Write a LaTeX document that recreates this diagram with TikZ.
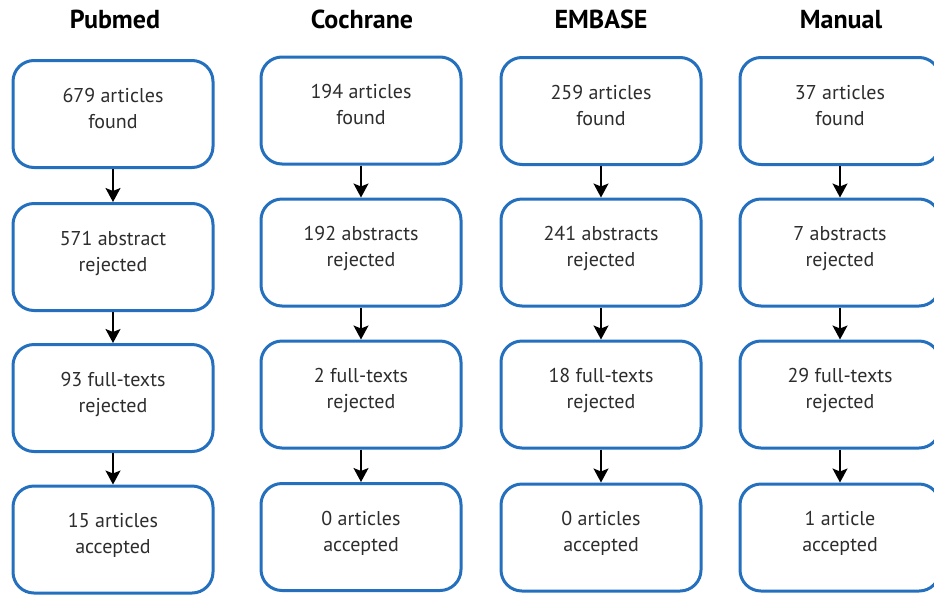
\documentclass[tikz,border=0pt]{standalone}
\usepackage{fontspec}
\setmainfont{PT Sans}
\usetikzlibrary{arrows.meta}
\definecolor{boxblue}{RGB}{36,112,190}
\definecolor{txtgray}{RGB}{45,45,45}
\tikzset{
  stagebox/.style={draw=boxblue, line width=3pt, rounded corners=21pt, fill=white,
    minimum width=200pt, minimum height=107pt, align=center, text=txtgray,
    font=\fontsize{20}{26}\selectfont,
    execute at begin node={\rule{0pt}{14pt}},
    execute at end node={\rule[-12pt]{0pt}{12pt}}},
  title/.style={font=\fontsize{26}{28}\selectfont\bfseries, anchor=base, text=black},
  flow/.style={line width=1.5pt, -{Stealth[length=14pt,width=15pt,inset=3pt]}}
}
\begin{document}
\begin{tikzpicture}[x=1pt,y=-1pt]
\useasboundingbox (0,0) rectangle (934,595);
\begin{scope}
\clip (0,0) rectangle (934,595);
% titles
\node[title] (tp) at (115,28) {Pubmed};
\node[title] (tc) at (362,28) {Cochrane};
\node[title] (te) at (601,28) {EMBASE};
\node[title] (tm) at (841,28) {Manual};
% Pubmed
\node[stagebox] (p1) at (113,114) {679 articles\\found};
\node[stagebox] (p2) at (113,257) {571 abstract\\rejected};
\node[stagebox] (p3) at (113,398) {93 full-texts\\rejected};
\node[stagebox] (p4) at (113,539.5) {15 articles\\accepted};
% Cochrane
\node[stagebox] (c1) at (361,110.5) {194 articles\\found};
\node[stagebox] (c2) at (361,252.5) {192 abstracts\\rejected};
\node[stagebox] (c3) at (361,394.5) {2 full-texts\\rejected};
\node[stagebox] (c4) at (361,537) {0 articles\\accepted};
% EMBASE
\node[stagebox] (e1) at (601,111) {259 articles\\found};
\node[stagebox] (e2) at (601,252.5) {241 abstracts\\rejected};
\node[stagebox] (e3) at (601,394.5) {18 full-texts\\rejected};
\node[stagebox] (e4) at (601,537.5) {0 articles\\accepted};
% Manual
\node[stagebox] (m1) at (840,111) {37 articles\\found};
\node[stagebox] (m2) at (840,252.5) {7 abstracts\\rejected};
\node[stagebox] (m3) at (840,394.5) {29 full-texts\\rejected};
\node[stagebox] (m4) at (840,537.5) {1 article\\accepted};
% arrows
\draw[flow] (p1) -- (p2);
\draw[flow] (p2) -- (p3);
\draw[flow] (p3) -- (p4);
\draw[flow] (c1) -- (c2);
\draw[flow] (c2) -- (c3);
\draw[flow] (c3) -- (c4);
\draw[flow] (e1) -- (e2);
\draw[flow] (e2) -- (e3);
\draw[flow] (e3) -- (e4);
\draw[flow] (m1) -- (m2);
\draw[flow] (m2) -- (m3);
\draw[flow] (m3) -- (m4);
\end{scope}
\end{tikzpicture}
\end{document}
